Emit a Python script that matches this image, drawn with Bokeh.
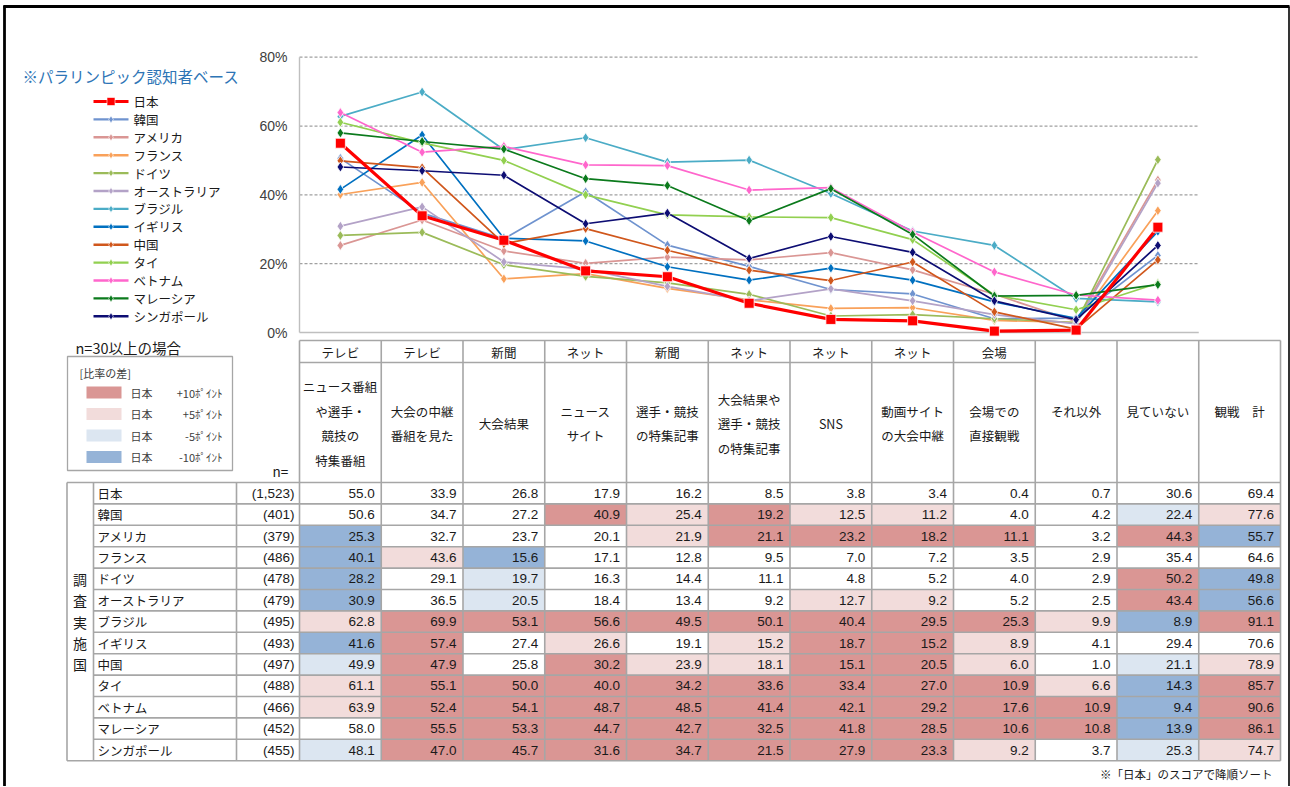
from bokeh.plotting import figure
from bokeh.models import Range1d
from bokeh.core.properties import value
from bokeh.embed import file_html
from bokeh.resources import INLINE

# ---------------- data ----------------
countries = ["日本", "韓国", "アメリカ", "フランス", "ドイツ", "オーストラリア",
             "ブラジル", "イギリス", "中国", "タイ", "ベトナム", "マレーシア", "シンガポール"]
n_labels = ["(1,523)", "(401)", "(379)", "(486)", "(478)", "(479)", "(495)",
            "(493)", "(497)", "(488)", "(466)", "(452)", "(455)"]
media = ["テレビ", "テレビ", "新聞", "ネット", "新聞", "ネット", "ネット", "ネット", "会場", "", "", ""]
items = ["ニュース番組\nや選手・\n競技の\n特集番組", "大会の中継\n番組を見た", "大会結果",
         "ニュース\nサイト", "選手・競技\nの特集記事", "大会結果や\n選手・競技\nの特集記事",
         "SNS", "動画サイト\nの大会中継", "会場での\n直接観戦", "それ以外", "見ていない", "観戦　計"]

japan = [55.0, 33.9, 26.8, 17.9, 16.2, 8.5, 3.8, 3.4, 0.4, 0.7, 30.6, 69.4]
korea = [50.6, 34.7, 27.2, 40.9, 25.4, 19.2, 12.5, 11.2, 4.0, 4.2, 22.4, 77.6]
usa = [25.3, 32.7, 23.7, 20.1, 21.9, 21.1, 23.2, 18.2, 11.1, 3.2, 44.3, 55.7]
france = [40.1, 43.6, 15.6, 17.1, 12.8, 9.5, 7.0, 7.2, 3.5, 2.9, 35.4, 64.6]
germany = [28.2, 29.1, 19.7, 16.3, 14.4, 11.1, 4.8, 5.2, 4.0, 2.9, 50.2, 49.8]
australia = [30.9, 36.5, 20.5, 18.4, 13.4, 9.2, 12.7, 9.2, 5.2, 2.5, 43.4, 56.6]
brazil = [62.8, 69.9, 53.1, 56.6, 49.5, 50.1, 40.4, 29.5, 25.3, 9.9, 8.9, 91.1]
uk = [41.6, 57.4, 27.4, 26.6, 19.1, 15.2, 18.7, 15.2, 8.9, 4.1, 29.4, 70.6]
china = [49.9, 47.9, 25.8, 30.2, 23.9, 18.1, 15.1, 20.5, 6.0, 1.0, 21.1, 78.9]
thailand = [61.1, 55.1, 50.0, 40.0, 34.2, 33.6, 33.4, 27.0, 10.9, 6.6, 14.3, 85.7]
vietnam = [63.9, 52.4, 54.1, 48.7, 48.5, 41.4, 42.1, 29.2, 17.6, 10.9, 9.4, 90.6]
malaysia = [58.0, 55.5, 53.3, 44.7, 42.7, 32.5, 41.8, 28.5, 10.6, 10.8, 13.9, 86.1]
singapore = [48.1, 47.0, 45.7, 31.6, 34.7, 21.5, 27.9, 23.3, 9.2, 3.7, 25.3, 74.7]

y_ticks = [0, 20, 40, 60, 80]
y_tick_labels = ["0%", "20%", "40%", "60%", "80%"]
diff_labels = ["+10ﾎﾟｲﾝﾄ", "+5ﾎﾟｲﾝﾄ", "-5ﾎﾟｲﾝﾄ", "-10ﾎﾟｲﾝﾄ"]

series = [japan, korea, usa, france, germany, australia, brazil, uk, china,
          thailand, vietnam, malaysia, singapore]
line_colors = ["#FF0000", "#6F93CF", "#DA9694", "#F9A15A", "#9BBB59", "#B3A2C7",
               "#4BACC6", "#0070C0", "#D0571C", "#92D050", "#FF66CC", "#0B7A1C", "#0D0D73"]

# ---------------- styles ----------------
JP = value("Noto Sans CJK JP")
NUM = value("Liberation Sans")
SANS = value("Liberation Sans")
GRID = "#A6A6A6"
DARK_RED, LIGHT_RED, LIGHT_BLUE, DARK_BLUE = "#DA9694", "#F2DCDB", "#DCE6F1", "#95B3D7"
TXT = "#1A1A1A"

# ---------------- layout (screen pixels of the page) ----------------
W, H = 1290, 786
M = 0
SX0, SX1 = M, M + W
SY0, SY1 = M, M + H
COL_L, COL_W = 299.0, 81.75
C0 = COL_L + COL_W / 2
P0_Y, P80_Y = 332.0, 56.7
PPX = 80.0 / (P0_Y - P80_Y)
ROW_T, ROW_H = 482.0, 21.4
R0 = ROW_T + ROW_H / 2
NCOL = len(japan)
NPLOT = NCOL - 1
NROW = len(countries)
TAB_R = COL_L + NCOL * COL_W

p = figure(width=W, height=H, x_range=Range1d(SX0, SX1), y_range=Range1d(SY1, SY0),
           output_backend="svg", toolbar_location=None, min_border=0,
           x_axis_location=None, y_axis_location=None)
p.extra_x_ranges = {"cat": Range1d((SX0 - C0) / COL_W, (SX1 - C0) / COL_W)}
p.extra_y_ranges = {"pct": Range1d((P0_Y - SY1) * PPX, (P0_Y - SY0) * PPX),
                    "row": Range1d((SY1 - R0) / ROW_H, (SY0 - R0) / ROW_H)}
p.grid.visible = False
p.outline_line_color = None
p.background_fill_color = "white"
p.border_fill_color = "white"

# outer frame
p.segment(x0=[4, 3, 1288.5], y0=[5, 6, 6], x1=[4, 1289, 1288.5], y1=[SY1, 6, SY1],
          line_color="black", line_width=[2.8, 2.8, 1.6])

# ---------------- line chart ----------------
xs = list(range(NPLOT))
p.segment(x0=[-0.5] * 4, x1=[NPLOT - 0.5] * 4, y0=y_ticks[1:], y1=y_ticks[1:],
          x_range_name="cat", y_range_name="pct", line_color="#A0A0A0", line_width=1.3,
          line_dash="3 2")
p.segment(x0=[-0.5, -0.5], y0=[0, 0], x1=[-0.5, NPLOT - 0.5], y1=[80, 0],
          x_range_name="cat", y_range_name="pct", line_color="#BFBFBF", line_width=1.4)
p.text(x=[287] * len(y_ticks), y=[P0_Y - t / PPX for t in y_ticks], text=y_tick_labels,
       text_font=SANS, text_font_size="14px", text_align="right", text_baseline="middle",
       text_color="#404040")

order = list(range(1, len(series))) + [0]
for i in order:
    vals = series[i][:NPLOT]
    if i == 0:
        p.line(xs, vals, x_range_name="cat", y_range_name="pct", line_color=line_colors[i],
               line_width=3.2)
        p.scatter(xs, vals, x_range_name="cat", y_range_name="pct", marker="square", size=10,
                  fill_color=line_colors[i], line_color="white", line_width=0.8)
    else:
        p.line(xs, vals, x_range_name="cat", y_range_name="pct", line_color=line_colors[i],
               line_width=1.7)
        p.scatter(xs, vals, x_range_name="cat", y_range_name="pct", marker="diamond", size=10,
                  fill_color=line_colors[i], line_color="white", line_width=0.8)

# title + legend
p.text(x=[22], y=[75], text=["※パラリンピック認知者ベース"], text_font=JP, text_font_size="15.5px",
       text_color="#2E75B6", text_baseline="middle")
for i, name in enumerate(countries):
    ly = 101 + 17.9 * i
    p.line([93, 128], [ly, ly], line_color=line_colors[i], line_width=3 if i == 0 else 2.4)
    if i == 0:
        p.scatter([110.5], [ly], marker="square", size=8, fill_color=line_colors[i],
                  line_color="white", line_width=0.6)
    else:
        p.scatter([110.5], [ly], marker="diamond", size=7, fill_color=line_colors[i],
                  line_color="white", line_width=0.6)
    p.text(x=[133], y=[ly], text=[name], text_font=JP, text_font_size="12.5px",
           text_color=TXT, text_baseline="middle")

# ---------------- table ----------------
def cell_color(v, base):
    d = v - base
    if d >= 10:
        return DARK_RED
    if d >= 5:
        return LIGHT_RED
    if d <= -10:
        return DARK_BLUE
    if d <= -5:
        return LIGHT_BLUE
    return None

cx, cy, cc = [], [], []
tx, ty, tt = [], [], []
for r, vals in enumerate(series):
    for k, v in enumerate(vals):
        c = cell_color(v, japan[k])
        if c is not None:
            cx.append(k); cy.append(r); cc.append(c)
        tx.append(k + 0.5 - 6.5 / COL_W); ty.append(r); tt.append(f"{v:.1f}")
p.rect(x=cx, y=cy, width=1, height=1, fill_color=cc, line_color=None,
       x_range_name="cat", y_range_name="row")

# grid lines (layout)
gx0, gy0, gx1, gy1 = [], [], [], []
def hl(y, a, b):
    gx0.append(a); gx1.append(b); gy0.append(y); gy1.append(y)
def vl(x, a, b):
    gx0.append(x); gx1.append(x); gy0.append(a); gy1.append(b)
TAB_B = ROW_T + NROW * ROW_H
hl(340, COL_L, TAB_R)
hl(362, COL_L, COL_L + 9 * COL_W)
hl(ROW_T, 66.5, TAB_R)
for r in range(1, NROW):
    hl(ROW_T + r * ROW_H, 93, TAB_R)
hl(TAB_B, 66.5, TAB_R)
vl(66.5, ROW_T, TAB_B)
vl(93, ROW_T, TAB_B)
vl(236, ROW_T, TAB_B)
for k in range(NCOL + 1):
    vl(COL_L + k * COL_W, 340, TAB_B)
p.segment(x0=gx0, y0=gy0, x1=gx1, y1=gy1, line_color=GRID, line_width=1.6)

p.text(x=tx, y=ty, text=tt, x_range_name="cat", y_range_name="row", text_font=NUM,
       text_font_size="13.5px", text_align="right", text_baseline="middle", text_color=TXT)

# row headers
p.text(x=[97] * NROW, y=list(range(NROW)), text=countries, y_range_name="row", text_font=JP,
       text_font_size="12.5px", text_baseline="middle", text_color=TXT)
p.text(x=[294] * NROW, y=list(range(NROW)), text=n_labels, y_range_name="row", text_font=NUM,
       text_font_size="13.5px", text_align="right", text_baseline="middle", text_color=TXT)
p.text(x=[79.5] * 5, y=[4, 5, 6, 7, 8], text=list("調査実施国"), y_range_name="row",
       text_font=JP, text_font_size="14px", text_align="center", text_baseline="middle",
       text_color=TXT)

# column headers
hx, hy, ht = [], [], []
LH = 24.5
for k in range(NCOL):
    if media[k]:
        hx.append(k); hy.append(351.5); ht.append(media[k])
        cyc = 423.0
    else:
        cyc = 411.0
    lines = items[k].split("\n")
    for j, ln in enumerate(lines):
        hx.append(k); hy.append(cyc + (j - (len(lines) - 1) / 2) * LH); ht.append(ln)
p.text(x=hx, y=hy, text=ht, x_range_name="cat", text_font=JP, text_font_size="12.5px",
       text_align="center", text_baseline="middle", text_color=TXT)

# notes
p.text(x=[75], y=[347], text=["n=30以上の場合"], text_font=JP, text_font_size="14.5px",
       text_baseline="middle", text_color=TXT)
p.text(x=[272], y=[470], text=["n="], text_font=JP, text_font_size="13.5px",
       text_baseline="middle", text_color=TXT)
p.text(x=[1272], y=[773], text=["※「日本」のスコアで降順ソート"], text_font=JP,
       text_font_size="11.5px", text_align="right", text_baseline="middle", text_color=TXT)

# difference legend box
p.quad(left=[67], right=[232], top=[356], bottom=[470], fill_color=None,
       line_color="#A6A6A6", line_width=1.3)
p.text(x=[79], y=[372], text=["[比率の差]"], text_font=JP, text_font_size="11px",
       text_baseline="middle", text_color="#404040")
sw_colors = [DARK_RED, LIGHT_RED, LIGHT_BLUE, DARK_BLUE]
sw_y = [392, 413.5, 435, 456.5]
p.rect(x=[103.5] * 4, y=sw_y, width=35, height=12, fill_color=sw_colors, line_color=None)
p.text(x=[130] * 4, y=sw_y, text=["日本"] * 4, text_font=JP, text_font_size="11px",
       text_baseline="middle", text_color="#404040")
p.text(x=[222] * 4, y=sw_y, text=diff_labels, text_font=JP, text_font_size="11px",
       text_align="right", text_baseline="middle", text_color="#404040")

open("out.html", "w").write(file_html(p, INLINE))
